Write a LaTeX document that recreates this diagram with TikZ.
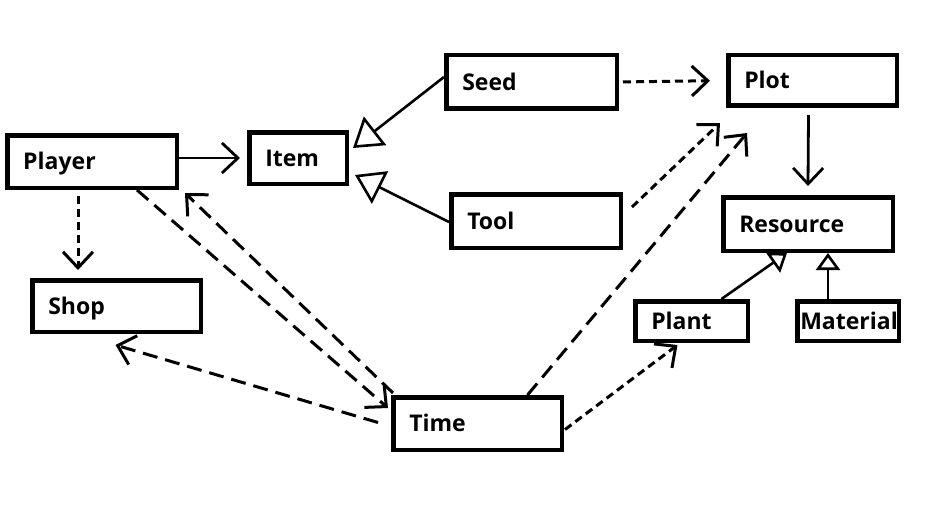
\documentclass[tikz,border=0pt]{standalone}
\usepackage{fontspec}
\newfontfamily\boxfont{Open Sans}
\usetikzlibrary{arrows.meta,calc}

\tikzset{
  box/.style={draw, line width=4.5pt, inner xsep=16pt, inner ysep=1pt, align=left,
    text height=16.4pt, text depth=0pt, font=\boxfont\bfseries\fontsize{23}{26}\selectfont},
  uses/.style={line width=2.8pt, -{Straight Barb[length=16pt,width=30pt]}},
  dep/.style={uses, line width=3pt, dash pattern=on 8pt off 5pt},
  longdep/.style={uses, line width=3pt, dash pattern=on 15pt off 8pt},
  isa/.style={line width=2.6pt, -{Triangle[open,length=28pt,width=36pt]}},
  isasmall/.style={line width=2.6pt, -{Triangle[open,length=17pt,width=24pt]}},
}

\begin{document}
\begin{tikzpicture}[x=1pt, y=-1pt]
	\useasboundingbox (0,0) rectangle (927,519);
	% classes
	\node[box, text width=137.5pt, minimum height=52.5pt] (Player) at (92,161.5) {Player};
	\node[box, text width=65.5pt, minimum height=51.5pt] (Item) at (298,158) {Item};
	\node[box, text width=136.5pt, minimum height=51.5pt] (Shop) at (116.5,306) {Shop};
	\node[box, text width=138.5pt, minimum height=53.5pt] (Seed) at (531.5,82) {Seed};
	\node[box, text width=137.5pt, minimum height=53.5pt] (Tool) at (536,221) {Tool};
	\node[box, text width=136.5pt, minimum height=50.5pt] (Plot) at (812.5,80.5) {Plot};
	\node[box, text width=137.5pt, minimum height=53.5pt] (Resource) at (808,224) {Resource};
	\node[box, text width=80.5pt, minimum height=39.5pt] (Plant) at (691.5,321) {Plant};
	\node[box, inner xsep=3pt, text width=95.5pt, align=center, minimum height=39.5pt] (Material) at (848,321) {Material};
	\node[box, text width=136.5pt, minimum height=52.5pt] (Time) at (477.5,423.5) {Time};

	% solid arrows
	\draw[uses, shorten >=7pt] (Player.east |- Item.west) -- (Item.west);
	\draw[uses] ($(Plot.south)+(-4,7)$) -- ($(Resource.north)+(0,-9)$);

	% inheritance
	\draw[isa] ($(Seed.west)+(0,-5)$) -- ($(Item.east)+(4,-10)$);
	\draw[isa] ($(Tool.west)+(0,1)$) -- ($(Item.east)+(6,17)$);
	\draw[isasmall] ($(Plant.north)+(30,0)$) -- ($(Resource.south)+(-21,0)$);
	\draw[isasmall] ($(Material.north)+(-20,0)$) -- ($(Resource.south)+(20,0)$);

	% short dashes
	\draw[dep] ($(Player.south)+(-14,6)$) -- ($(Shop.north)+(-38.5,-8)$);
	\draw[dep, shorten <=4pt, shorten >=16pt] (Seed.east) -- (Plot.west);
	\draw[dep] ($(Tool.east)+(9,-14)$) -- ($(Plot.south west)+(-6,15)$);
	\draw[dep] ($(Time.east)+(1,6)$) -- ($(Plant.south)+(-14,2)$);

	% long dashes
	\draw[longdep] ($(Time.north)+(50,0)$) -- ($(Plot.south west)+(21,25)$);
	\draw[longdep] ($(Time.west)+(-13,-1)$) -- ($(Shop.south)+(-1,11)$);
	\draw[longdep] ($(Player.south)+(45,0)$) -- ($(Time.north west)+(-3,13)$);
	\draw[longdep] ($(Time.north west)+(2,-2)$) -- ($(Player.south east)+(6,3)$);
\end{tikzpicture}
\end{document}
